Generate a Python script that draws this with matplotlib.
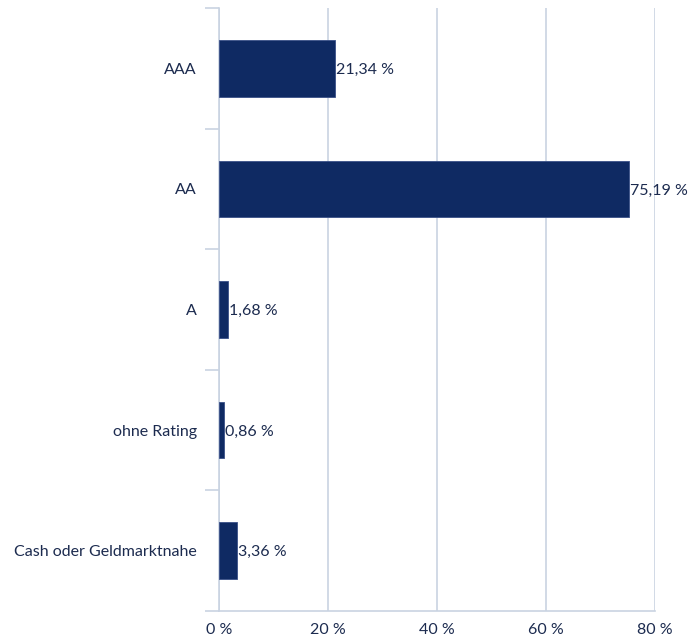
import numpy as np
import matplotlib.pyplot as plt

# ------------------------------------------------------
# DATA
# ------------------------------------------------------

categories = ["AAA", "AA", "A", "ohne Rating", "Cash oder Geldmarktnahe"]

shares = [21.34, 75.19, 1.68, 0.86, 3.36]

x_ticks = [0, 20, 40, 60, 80]

# ------------------------------------------------------
# STYLE
# ------------------------------------------------------

NAVY = "#0f2a63"
TEXT = "#1c2b4f"
GRID = "#c9d3e2"
FS = 11.5

plt.rcParams["font.family"] = ["Lato", "DejaVu Sans"]

# ------------------------------------------------------
# GRAPH
# ------------------------------------------------------

fig = plt.figure(figsize=(6.99, 6.41), dpi=100)
ax = fig.add_axes([219 / 699, 30 / 641, 436 / 699, 603 / 641])

y = np.arange(len(categories))[::-1]

ax.barh(y, shares, height=0.47, color=NAVY, edgecolor="#3a5088",
        linewidth=0.6, zorder=3)

for yi, v in zip(y, shares):
    ax.text(v + 0.2, yi, f"{v:.2f}".replace(".", ",") + " %",
            va="center_baseline", ha="left", fontsize=FS, color=TEXT, zorder=4)

ax.set_xlim(0, 80)
ax.set_ylim(-0.5, len(categories) - 0.5)

ax.set_xticks(x_ticks)
ax.set_xticklabels([f"{t} %" for t in x_ticks])
ax.grid(axis="x", color=GRID, linewidth=1.2, zorder=0)

ax.set_yticks(y)
ax.set_yticklabels(categories)
ax.set_yticks(np.arange(len(categories) + 1) - 0.5, minor=True)

ax.tick_params(axis="y", which="major", length=0, pad=16,
               labelsize=FS, labelcolor=TEXT)
ax.tick_params(axis="y", which="minor", length=10, width=1.2, color=GRID)
ax.tick_params(axis="x", length=0, pad=9, labelsize=FS, labelcolor=TEXT)

for side in ["top", "right"]:
    ax.spines[side].set_visible(False)
ax.spines["left"].set_color(GRID)
ax.spines["left"].set_linewidth(1.2)
ax.spines["bottom"].set_color(GRID)
ax.spines["bottom"].set_linewidth(1.2)

fig.savefig("out.png", dpi=100)
